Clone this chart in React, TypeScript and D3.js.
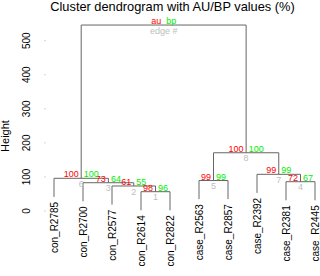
import React from "react";
import * as d3 from "d3";

const leaves = ["con_R2785", "con_R2700", "con_R2577", "con_R2614", "con_R2822", "case_R2563", "case_R2857", "case_R2392", "case_R2381", "case_R2445"];
// merge pairs (negative = leaf index 1-based, positive = earlier merge 1-based)
const mergeA = [-4, -3, -2, -9, -6, -1, -8, 5, 6];
const mergeB = [-5, 1, 2, -10, -7, 3, 4, 7, 8];
const heights = [56.7, 73.4, 83, 86, 89.5, 96, 107.7, 171, 546];
const auValues = ["98", "61", "73", "72", "99", "100", "99", "100", "au"];
const bpValues = ["96", "55", "64", "67", "99", "100", "99", "100", "bp"];
const edgeLabels = ["1", "2", "3", "4", "5", "6", "7", "8", "edge #"];
const yTicks = [0, 100, 200, 300, 400, 500];

const FONT = "'Liberation Sans', Arial, Helvetica, sans-serif";

export default function App() {
  const W = 320, H = 276;
  const x = d3.scaleLinear().domain([1, leaves.length]).range([54, 315]);
  const y = d3.scaleLinear().domain([0, 500]).range([211, 40.7]);
  const maxH = d3.max(heights) as number;
  const hang = 0.1 * maxH;
  const floatPx = y(0) - y(0.01 * maxH);

  const nodeX: number[] = [];
  const posOf = (id: number) => (id < 0 ? x(-id) : nodeX[id - 1]);
  const hOf = (id: number) => (id < 0 ? null : heights[id - 1]);
  const lines: { x1: number; y1: number; x2: number; y2: number }[] = [];
  const leafEnds: { i: number; yEnd: number }[] = [];

  heights.forEach((h, k) => {
    const a = mergeA[k], b = mergeB[k];
    const xa = posOf(a), xb = posOf(b);
    nodeX[k] = (xa + xb) / 2;
    const ym = y(h);
    lines.push({ x1: xa, y1: ym, x2: xb, y2: ym });
    [a, b].forEach((c) => {
      const xc = posOf(c);
      const hc = hOf(c);
      const yc = hc === null ? y(h - hang) : y(hc);
      lines.push({ x1: xc, y1: ym, x2: xc, y2: yc });
      if (c < 0) leafEnds.push({ i: -c, yEnd: y(h - hang) });
    });
  });

  return (
    <svg width={W} height={H} style={{ position: "absolute", left: 0, top: 0, background: "#fff" }} fontFamily={FONT}>
      <text x={172.5} y={10.5} fontSize={12.8} textAnchor="middle" fill="#000">
        Cluster dendrogram with AU/BP values (%)
      </text>
      {/* y axis */}
      {yTicks.map((t) => (
        <g key={t}>
          <rect x={44.5} y={y(t) - 0.5} width={1} height={1} fill="#aaa" />
          <text
            transform={`translate(30,${y(t)}) rotate(-90)`}
            fontSize={10}
            textAnchor="middle"
            fill="#000"
          >
            {t}
          </text>
        </g>
      ))}
      <text transform={`translate(9,136) rotate(-90)`} fontSize={11} textAnchor="middle" fill="#000">
        Height
      </text>
      {/* tree */}
      {lines.map((l, i) => (
        <line key={i} x1={l.x1} y1={l.y1} x2={l.x2} y2={l.y2} stroke="#666" strokeWidth={1} />
      ))}
      {/* leaf labels */}
      {leafEnds.map((le) => (
        <text
          key={le.i}
          transform={`translate(${x(le.i) + 3.5},${le.yEnd + 5}) rotate(-90)`}
          fontSize={10}
          textAnchor="end"
          fill="#000"
        >
          {leaves[le.i - 1]}
        </text>
      ))}
      {/* pv labels */}
      {heights.map((h, k) => {
        const nx = nodeX[k];
        const ny = y(h) - floatPx;
        return (
          <g key={k} fontSize={9}>
            <text x={nx - 2.5} y={ny + 1} textAnchor="end" fill="#ff0000">
              {auValues[k]}
            </text>
            <text x={nx + 2.5} y={ny + 1} textAnchor="start" fill="#00ee00">
              {bpValues[k]}
            </text>
            <text x={nx} y={ny + 10.5} textAnchor="middle" fill="#bebebe">
              {edgeLabels[k]}
            </text>
          </g>
        );
      })}
    </svg>
  );
}
